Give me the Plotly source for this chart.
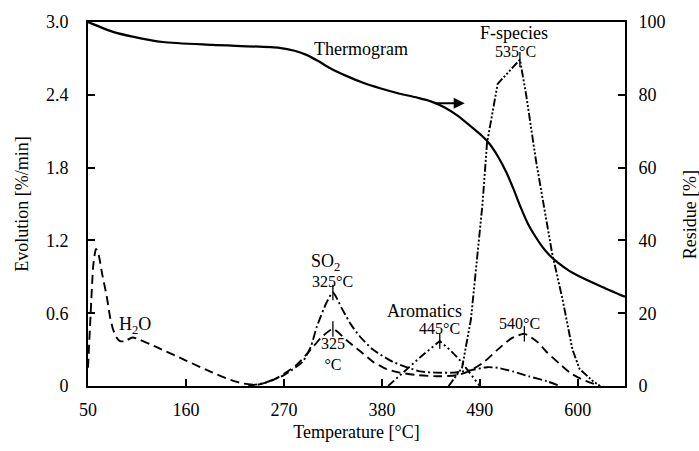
import plotly.graph_objects as go

# Temperature-programmed evolution profiles (Evolution, %/min) and TG residue (%)
h2o_t = [50, 53, 56, 59, 62, 66, 71, 75, 78, 82, 86, 92, 100, 130, 160, 190, 210, 225,
         240, 255, 270, 285, 300, 312, 325, 340, 355, 370, 385, 400, 420, 445, 465,
         480, 495, 510, 525, 540, 555, 565, 580, 591, 603, 613, 625]
h2o_v = [0.15, 0.6, 1.0, 1.13, 1.08, 0.92, 0.74, 0.56, 0.47, 0.40, 0.37, 0.37, 0.40, 0.31,
         0.21, 0.11, 0.05, 0.02, 0.01, 0.04, 0.10, 0.18, 0.30, 0.40, 0.47, 0.38, 0.29,
         0.20, 0.14, 0.11, 0.09, 0.08, 0.09, 0.13, 0.20, 0.30, 0.39, 0.43, 0.36, 0.28,
         0.18, 0.11, 0.06, 0.03, 0.0]

so2_t = [230, 250, 270, 291, 300, 307, 318, 325, 335, 345, 355, 370, 392, 410, 423, 440,
         460, 480, 498, 510, 527, 545, 565, 580]
so2_v = [0.0, 0.03, 0.09, 0.20, 0.32, 0.49, 0.69, 0.77, 0.64, 0.51, 0.41, 0.30, 0.20,
         0.15, 0.12, 0.11, 0.11, 0.13, 0.155, 0.15, 0.12, 0.08, 0.04, 0.0]

arom_t = [387, 408, 425, 445, 456, 468, 480, 490]
arom_v = [0.0, 0.14, 0.25, 0.37, 0.30, 0.21, 0.09, 0.0]

fsp_t = [455, 470, 480, 487, 493, 498, 510, 535, 542, 553, 571, 583, 594, 602, 617, 625]
fsp_v = [0.0, 0.15, 0.55, 1.04, 1.5, 2.0, 2.49, 2.69, 2.4, 1.86, 1.10, 0.71, 0.30,
         0.14, 0.04, 0.0]

tg_t = [50, 60, 78, 100, 134, 190, 265, 282, 296, 309, 322, 340, 359, 378, 397, 420,
        435, 450, 465, 480, 492, 501, 510, 520, 528, 536, 544, 552, 560, 568, 578,
        590, 602, 625, 653]
tg_v = [100, 99.0, 97.3, 96.0, 94.5, 93.7, 92.9, 92.1, 90.9, 89.2, 87.3, 85.2, 83.3,
        81.8, 80.5, 79.2, 78.2, 76.6, 74.3, 71.3, 68.8, 66.5, 63.2, 58.6, 54.0, 49.0,
        44.6, 41.2, 38.3, 36.0, 33.8, 31.7, 30.1, 27.5, 24.5]

# Peak maxima marked with short vertical bars
peak_t = [325, 325, 445, 535, 540]
peak_v = [0.77, 0.47, 0.37, 2.69, 0.43]

x_ticks = [50, 160, 270, 380, 490, 600]
y_ticks = [0, 0.6, 1.2, 1.8, 2.4, 3.0]
y_ticktext = ["0", "0.6", "1.2", "1.8", "2.4", "3.0"]
y2_ticks = [0, 20, 40, 60, 80, 100]

FONT = "Liberation Serif, Times New Roman, serif"
INK = "black"

fig = go.Figure()

fig.add_trace(go.Scatter(x=h2o_t, y=h2o_v, mode="lines", name="H2O",
                         line=dict(color=INK, width=1.9, dash="9px,5px",
                                   shape="spline", smoothing=0.6)))
fig.add_trace(go.Scatter(x=so2_t, y=so2_v, mode="lines", name="SO2",
                         line=dict(color=INK, width=1.9, dash="9px,3px,2px,3px",
                                   shape="spline", smoothing=0.6)))
fig.add_trace(go.Scatter(x=arom_t, y=arom_v, mode="lines", name="Aromatics",
                         line=dict(color=INK, width=1.9,
                                   dash="8px,3px,2px,3px,2px,3px")))
fig.add_trace(go.Scatter(x=fsp_t, y=fsp_v, mode="lines", name="F-species",
                         line=dict(color=INK, width=1.9,
                                   dash="8px,2px,2px,2px,2px,2px,2px,2px")))
fig.add_trace(go.Scatter(x=peak_t, y=peak_v, mode="markers", name="peaks",
                         marker=dict(symbol="line-ns", size=11,
                                     line=dict(color=INK, width=1.3))))
fig.add_trace(go.Scatter(x=tg_t, y=tg_v, mode="lines", name="Thermogram", yaxis="y2",
                         line=dict(color=INK, width=2.2, shape="spline", smoothing=0.7)))

def label(text, x, y, size=18):
    fig.add_annotation(x=x, y=y, xref="x", yref="y", text=text, showarrow=False,
                       font=dict(family=FONT, size=size, color=INK),
                       xanchor="center", yanchor="middle")

label("Thermogram", 357, 2.78)
label("F-species", 528, 2.91)
label("535°C", 530, 2.76, 16)
label("SO<sub>2</sub>", 317, 1.02)
label("325°C", 325, 0.86, 16)
label("325<br>°C", 325, 0.26, 16)
label("Aromatics", 428, 0.62)
label("445°C", 445, 0.47, 16)
label("540°C", 535, 0.515, 16)
label("H<sub>2</sub>O", 103, 0.50)

# Arrow pointing the thermogram to the residue axis
fig.add_annotation(x=473, y=77.7, xref="x", yref="y2", ax=438, ay=77.7,
                   axref="x", ayref="y2", showarrow=True, arrowhead=2,
                   arrowsize=1.1, arrowwidth=2, arrowcolor=INK, text="")

# Right-hand axis title, placed outside the plotting area
fig.add_annotation(x=1.12, y=0.47, xref="paper", yref="paper", text="Residue [%]",
                   textangle=-90, showarrow=False,
                   font=dict(family=FONT, size=18, color=INK),
                   xanchor="center", yanchor="middle")

axis_common = dict(showgrid=False, zeroline=False, showline=True, linecolor=INK,
                   linewidth=2, ticks="inside", ticklen=7, tickwidth=1.5,
                   tickcolor=INK, tickfont=dict(family=FONT, size=18, color=INK))

fig.update_layout(
    width=699, height=451,
    margin=dict(l=88, r=74, t=20, b=64),
    paper_bgcolor="white", plot_bgcolor="white",
    showlegend=False,
    font=dict(family=FONT, color=INK),
    xaxis=dict(range=[50, 653], tickvals=x_ticks, mirror=True,
               title=dict(text="Temperature [°C]", font=dict(family=FONT, size=18),
                          standoff=7),
               ticklabelstandoff=6, **axis_common),
    yaxis=dict(range=[0, 3.0], tickvals=y_ticks, ticktext=y_ticktext,
               title=dict(text="Evolution [%/min]", font=dict(family=FONT, size=18),
                          standoff=13),
               ticklabelstandoff=14, **axis_common),
    yaxis2=dict(range=[0, 100], tickvals=y2_ticks, overlaying="y", side="right",
                automargin=False, ticklabelstandoff=8, **axis_common),
)

fig.write_html("out.html")
